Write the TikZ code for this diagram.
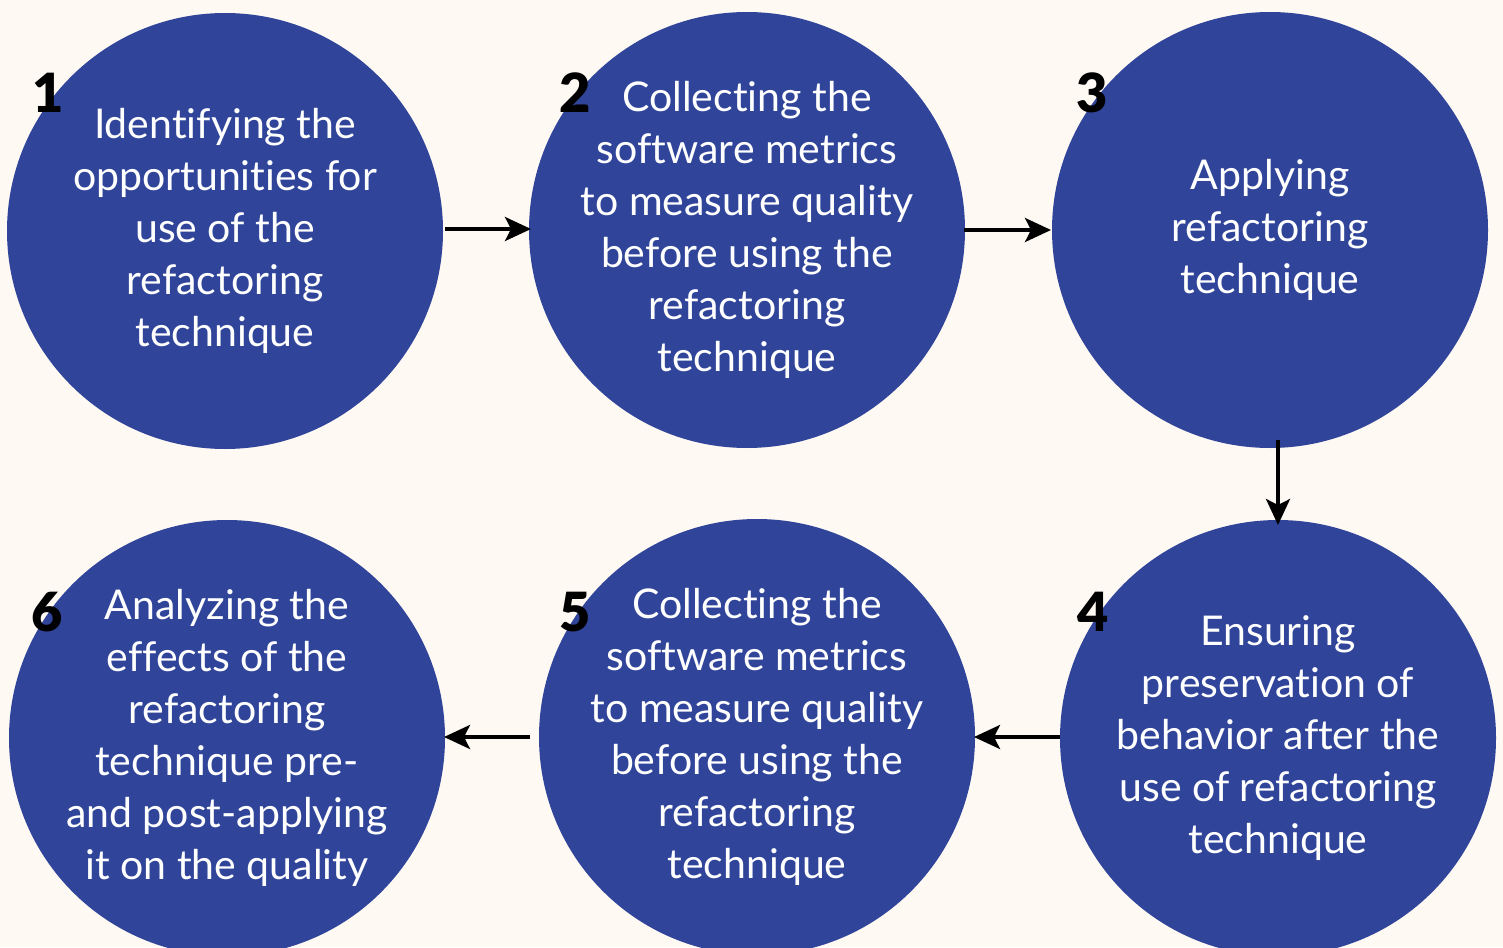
\documentclass[tikz,border=0pt]{standalone}
\usepackage{fontspec}
\setmainfont{Lato}[Ligatures=NoCommon]
\newfontfamily\numfont{Lato Black}
\usetikzlibrary{arrows.meta}
\definecolor{bgcream}{HTML}{FEF9F3}
\definecolor{stepblue}{HTML}{30459A}
\begin{document}
\begin{tikzpicture}[x=1pt,y=-1pt,
  stepcircle/.style={circle,fill=stepblue,minimum size=436pt,inner sep=0pt},
  steptext/.style={text=white,align=center,font=\fontsize{41}{52}\selectfont},
  stepnum/.style={font=\fontsize{54}{54}\selectfont\numfont,text=black,inner sep=0pt},
  flow/.style={line width=3.5pt,-{Stealth[length=26pt,width=24pt,inset=6pt]}}]
\useasboundingbox (0,0) rectangle (1503,947);
\clip (0,0) rectangle (1503,947);
\fill[bgcream] (0,0) rectangle (1503,947);

% the six step circles
\node[stepcircle] (c1) at (225,231) {};
\node[stepcircle] (c2) at (747,230) {};
\node[stepcircle] (c3) at (1270,230) {};
\node[stepcircle] (c4) at (1278,738) {};
\node[stepcircle] (c5) at (757,737) {};
\node[stepcircle] (c6) at (227,738) {};

% step descriptions
\node[steptext] (t1) at (c1) {Identifying the\\opportunities for\\use of the\\refactoring\\technique};
\node[steptext] (t2) at (c2) {Collecting the\\software metrics\\to measure quality\\before using the\\refactoring\\technique};
\node[steptext] (t3) at (c3) {Applying\\refactoring\\technique};
\node[steptext] (t4) at (c4) {Ensuring\\preservation of\\behavior after the\\use of refactoring\\technique};
\node[steptext] (t5) at (c5) {Collecting the\\software metrics\\to measure quality\\before using the\\refactoring\\technique};
\node[steptext] (t6) at (c6) {Analyzing the\\effects of the\\refactoring\\technique pre-\\and post-applying\\it on the quality};

% step numbers
\node[stepnum] (n1) at (48,93) {1};
\node[stepnum] (n2) at (575,93) {2};
\node[stepnum] (n3) at (1092,93) {3};
\node[stepnum] (n4) at (1093,612) {4};
\node[stepnum] (n5) at (575,612) {5};
\node[stepnum] (n6) at (47,612) {6};

% connectors between steps
\coordinate (a1s) at (445,229); \coordinate (a1e) at (531,229);
\coordinate (a2s) at (964,230); \coordinate (a2e) at (1051,230);
\coordinate (a3s) at (1278,440); \coordinate (a3e) at (1278,525);
\coordinate (a4s) at (1060,737); \coordinate (a4e) at (974,737);
\coordinate (a5s) at (530,737); \coordinate (a5e) at (444,737);
\draw[flow] (a1s) -- (a1e);
\draw[flow] (a2s) -- (a2e);
\draw[flow] (a3s) -- (a3e);
\draw[flow] (a4s) -- (a4e);
\draw[flow] (a5s) -- (a5e);
\end{tikzpicture}
\end{document}
